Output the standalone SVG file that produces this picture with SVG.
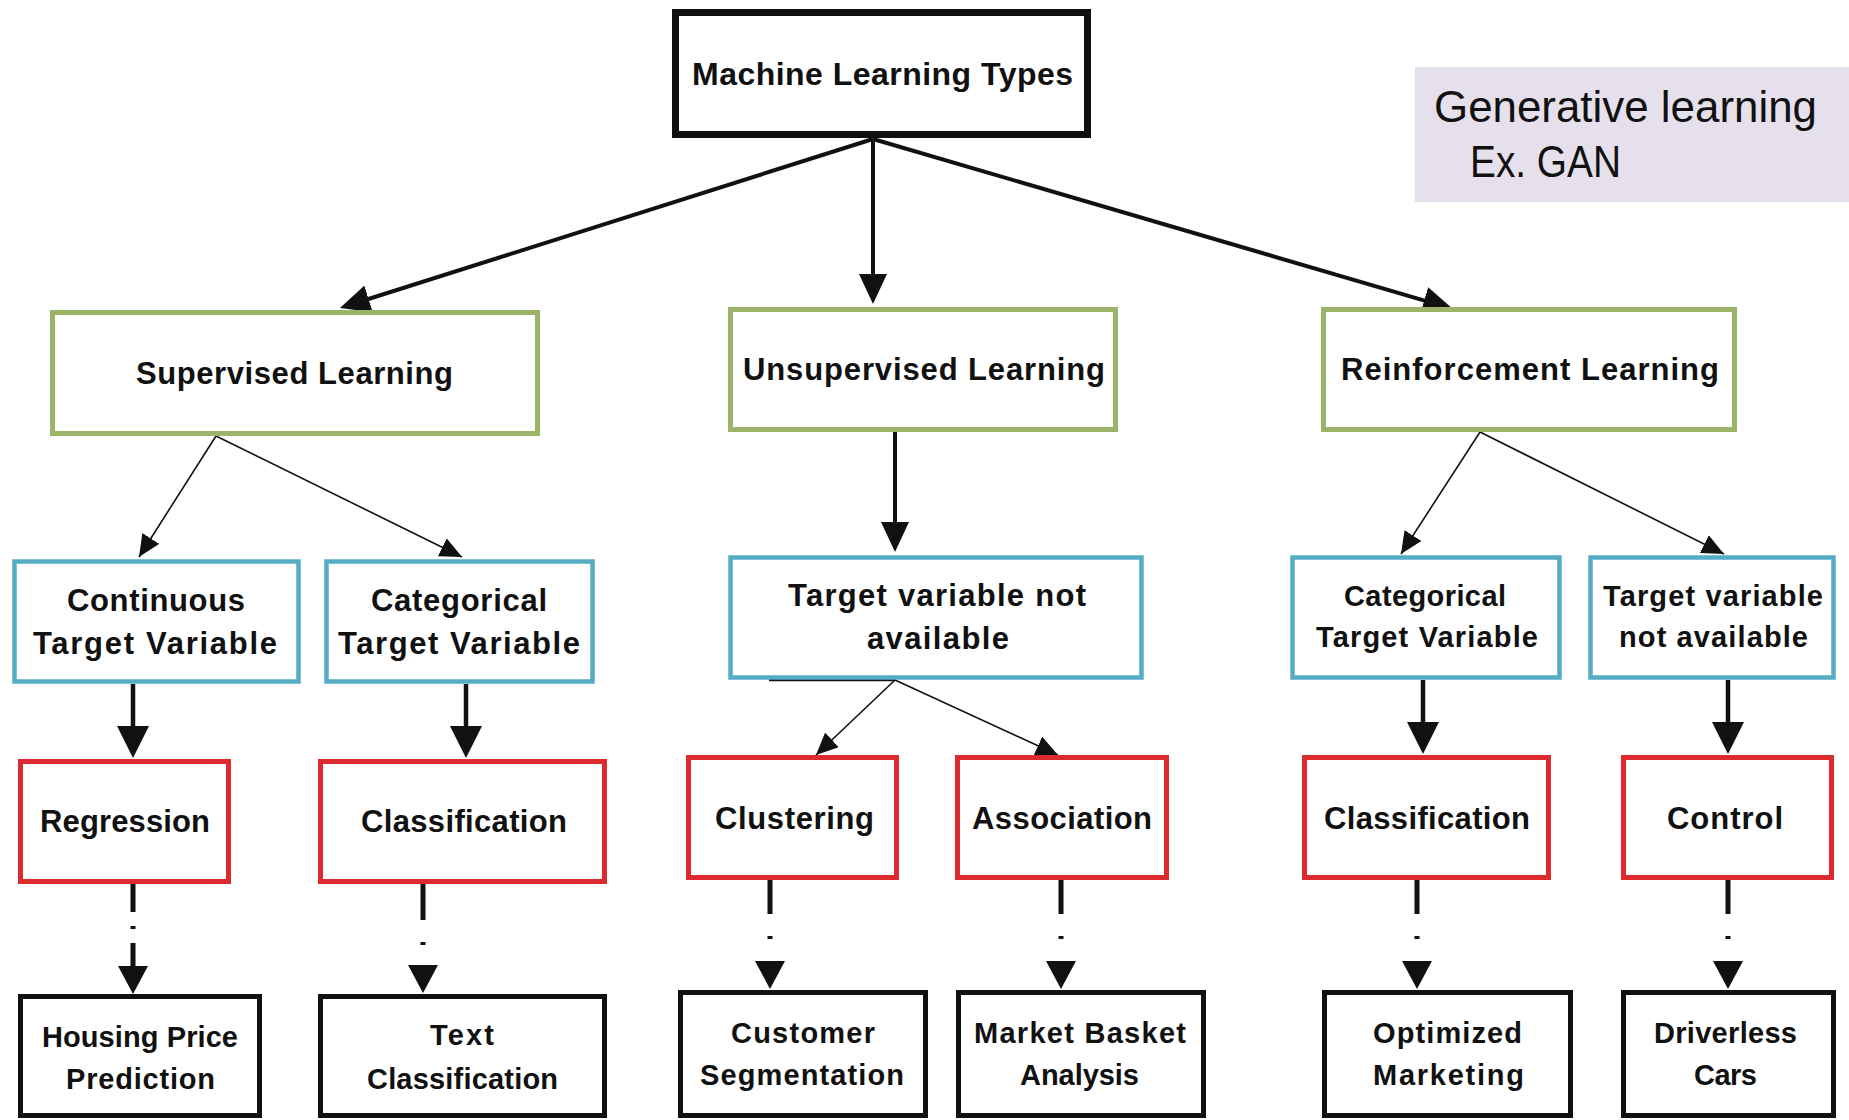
<svg xmlns="http://www.w3.org/2000/svg" width="1849" height="1120" viewBox="0 0 1849 1120">
<style>
  .box{fill:#fff}
  .k{stroke:#111;stroke-width:5}
  .top{stroke:#111;stroke-width:7}
  .g{stroke:#9CB46A;stroke-width:5}
  .b{stroke:#55ACC4;stroke-width:4.5}
  .r{stroke:#DC2A2E;stroke-width:5}
  text{font-family:"Liberation Sans",Arial,sans-serif;font-weight:bold;fill:#111;font-size:31px}
  .s0{font-size:32px}
  .s2{font-size:29px}
  .s4{font-size:29px}
  .gen{font-weight:normal;font-size:44px}
  .thick{stroke:#111;stroke-width:4;fill:none}
  .thin{stroke:#111;stroke-width:1.6;fill:none}
  .dash{stroke:#111;stroke-width:5;fill:none}
</style>
<defs>
  <marker id="big" markerUnits="userSpaceOnUse" markerWidth="30" markerHeight="28" viewBox="0 0 30 28" refX="20" refY="14" orient="auto">
    <path d="M0,0 L30,14 L0,28 z" fill="#111"/>
  </marker>
  <marker id="big2" markerUnits="userSpaceOnUse" markerWidth="32" markerHeight="32" viewBox="0 0 32 32" refX="22" refY="16" orient="auto">
    <path d="M0,0 L32,16 L0,32 z" fill="#111"/>
  </marker>
  <marker id="thin" markerUnits="userSpaceOnUse" markerWidth="22" markerHeight="20" viewBox="0 0 22 20" refX="22" refY="10" orient="auto">
    <path d="M0,0 L22,10 L0,20 z" fill="#111"/>
  </marker>
  <marker id="dsh" markerUnits="userSpaceOnUse" markerWidth="28" markerHeight="30" viewBox="0 0 28 30" refX="0" refY="15" orient="auto">
    <path d="M0,0 L28,15 L0,30 z" fill="#111"/>
  </marker>
</defs>
<rect width="1849" height="1120" fill="#fff"/>

<g id="connectors">
  <path class="thick" d="M873,139 L349.5,305" marker-end="url(#big)"/>
  <path class="thick" d="M873,139 L873,294" marker-end="url(#big)"/>
  <path class="thick" d="M873,139 L1443.4,306.2" marker-end="url(#big)"/>

  <path class="thin" d="M216,436 L139,557" marker-end="url(#thin)"/>
  <path class="thin" d="M216,436 L462,557" marker-end="url(#thin)"/>
  <path class="thick" d="M895,432 L895,542" marker-end="url(#big)"/>
  <path class="thin" d="M1480,432 L1401,554" marker-end="url(#thin)"/>
  <path class="thin" d="M1480,432 L1724,554" marker-end="url(#thin)"/>

  <path class="thick" style="stroke-width:4.5" d="M133,684 L133,748" marker-end="url(#big2)"/>
  <path class="thick" style="stroke-width:4.5" d="M466,684 L466,748" marker-end="url(#big2)"/>
  <path class="thick" style="stroke-width:4.5" d="M1423,680 L1423,744" marker-end="url(#big2)"/>
  <path class="thick" style="stroke-width:4.5" d="M1728,680 L1728,744" marker-end="url(#big2)"/>

  <line x1="769" y1="680" x2="895" y2="680" stroke="#111" stroke-width="2.5"/>
  <path class="thin" d="M895,680 L816,755" marker-end="url(#thin)"/>
  <path class="thin" d="M895,680 L1058,755" marker-end="url(#thin)"/>

  <path class="dash" d="M133,884 L133,966" stroke-dasharray="28 14 3 14 40" marker-end="url(#dsh)"/>
  <path class="dash" d="M423,884 L423,965" stroke-dasharray="36 22 3 200" marker-end="url(#dsh)"/>
  <path class="dash" d="M770,880 L770,961" stroke-dasharray="34 22 3 200" marker-end="url(#dsh)"/>
  <path class="dash" d="M1061,880 L1061,961" stroke-dasharray="34 22 3 200" marker-end="url(#dsh)"/>
  <path class="dash" d="M1417,880 L1417,961" stroke-dasharray="34 22 3 200" marker-end="url(#dsh)"/>
  <path class="dash" d="M1728,880 L1728,961" stroke-dasharray="34 22 3 200" marker-end="url(#dsh)"/>
</g>

<g id="generative">
  <rect x="1415" y="67" width="434" height="135" fill="#E5E0EC"/>
  <text class="gen" x="1434" y="122" textLength="383" lengthAdjust="spacingAndGlyphs">Generative learning</text>
  <text class="gen" x="1470" y="177" textLength="151" lengthAdjust="spacingAndGlyphs">Ex. GAN</text>
</g>

<g id="ml-types">
  <rect class="box top" x="675.5" y="12.5" width="412" height="122"/>
  <text class="s0" x="692" y="85" textLength="381">Machine Learning Types</text>
</g>

<g id="supervised">
  <rect class="box g" x="52.5" y="312.5" width="485" height="121"/>
  <text x="136" y="384" textLength="317">Supervised Learning</text>
</g>
<g id="unsupervised">
  <rect class="box g" x="730.5" y="309.5" width="385" height="120"/>
  <text x="743" y="380" textLength="362">Unsupervised Learning</text>
</g>
<g id="reinforcement">
  <rect class="box g" x="1323.5" y="309.5" width="411" height="120"/>
  <text x="1341" y="380" textLength="378">Reinforcement Learning</text>
</g>

<g id="continuous">
  <rect class="box b" x="14.5" y="561.5" width="284" height="120"/>
  <text x="67" y="611" textLength="178">Continuous</text>
  <text x="33" y="654" textLength="244">Target Variable</text>
</g>
<g id="categorical-sup">
  <rect class="box b" x="326.5" y="561.5" width="266" height="120"/>
  <text x="371" y="611" textLength="176">Categorical</text>
  <text x="338" y="654" textLength="242">Target Variable</text>
</g>
<g id="tvna-unsup">
  <rect class="box b" x="730.5" y="557.5" width="411" height="120"/>
  <text x="788" y="606" textLength="298">Target variable not</text>
  <text x="867" y="649" textLength="142">available</text>
</g>
<g id="categorical-rl">
  <rect class="box b" x="1292.5" y="557.5" width="267" height="120"/>
  <text class="s2" x="1344" y="606" textLength="162">Categorical</text>
  <text class="s2" x="1316" y="647" textLength="222">Target Variable</text>
</g>
<g id="tvna-rl">
  <rect class="box b" x="1590.5" y="557.5" width="243" height="120"/>
  <text class="s2" x="1603" y="606" textLength="220">Target variable</text>
  <text class="s2" x="1619" y="647" textLength="189">not available</text>
</g>

<g id="regression">
  <rect class="box r" x="20.5" y="761.5" width="208" height="120"/>
  <text x="40" y="832" textLength="170">Regression</text>
</g>
<g id="classification-sup">
  <rect class="box r" x="320.5" y="761.5" width="284" height="120"/>
  <text x="361" y="832" textLength="206">Classification</text>
</g>
<g id="clustering">
  <rect class="box r" x="688.5" y="757.5" width="208" height="120"/>
  <text x="715" y="829" textLength="159">Clustering</text>
</g>
<g id="association">
  <rect class="box r" x="957.5" y="757.5" width="209" height="120"/>
  <text x="972" y="829" textLength="180">Association</text>
</g>
<g id="classification-rl">
  <rect class="box r" x="1304.5" y="757.5" width="244" height="120"/>
  <text x="1324" y="829" textLength="206">Classification</text>
</g>
<g id="control">
  <rect class="box r" x="1623.5" y="757.5" width="208" height="120"/>
  <text x="1667" y="829" textLength="116">Control</text>
</g>

<g id="housing">
  <rect class="box k" x="20.5" y="996.5" width="239" height="119"/>
  <text class="s4" x="42" y="1047" textLength="196">Housing Price</text>
  <text class="s4" x="66" y="1089" textLength="149">Prediction</text>
</g>
<g id="text-classification">
  <rect class="box k" x="320.5" y="996.5" width="284" height="119"/>
  <text class="s4" x="430" y="1045" textLength="64">Text</text>
  <text class="s4" x="367" y="1089" textLength="191">Classification</text>
</g>
<g id="customer">
  <rect class="box k" x="680.5" y="992.5" width="245" height="123"/>
  <text class="s4" x="731" y="1043" textLength="144">Customer</text>
  <text class="s4" x="700" y="1085" textLength="204">Segmentation</text>
</g>
<g id="market">
  <rect class="box k" x="958.5" y="992.5" width="245" height="123"/>
  <text class="s4" x="974" y="1043" textLength="212">Market Basket</text>
  <text class="s4" x="1020" y="1085" textLength="119">Analysis</text>
</g>
<g id="optimized">
  <rect class="box k" x="1324.5" y="992.5" width="246" height="123"/>
  <text class="s4" x="1373" y="1043" textLength="149">Optimized</text>
  <text class="s4" x="1373" y="1085" textLength="151">Marketing</text>
</g>
<g id="driverless">
  <rect class="box k" x="1623.5" y="992.5" width="210" height="123"/>
  <text class="s4" x="1654" y="1043" textLength="143">Driverless</text>
  <text class="s4" x="1694" y="1085" textLength="63">Cars</text>
</g>
</svg>
